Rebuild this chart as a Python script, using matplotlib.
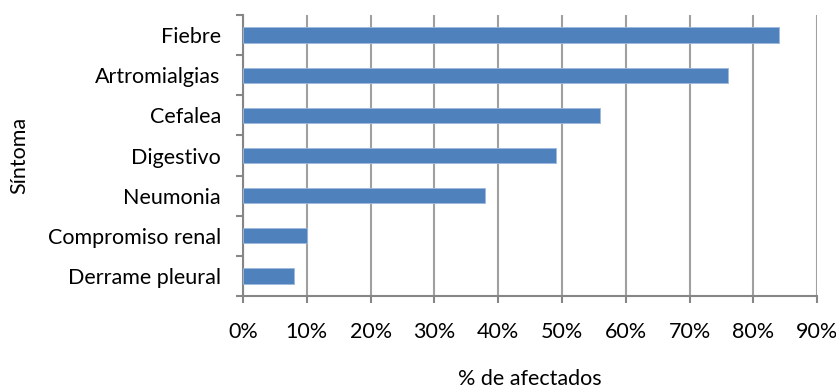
import matplotlib.pyplot as plt
from matplotlib.ticker import FixedLocator, PercentFormatter

plt.rcParams['font.family'] = ['Lato', 'DejaVu Sans']

sintomas = ['Fiebre', 'Artromialgias', 'Cefalea', 'Digestivo', 'Neumonia',
            'Compromiso renal', 'Derrame pleural']
porcentajes = [84, 76, 56, 49, 38, 10, 8]

fig = plt.figure(figsize=(8.37, 3.88), dpi=100)
ax = fig.add_axes([0.2903, 0.237, 0.686, 0.7243])

y = list(range(len(sintomas)))[::-1]
ax.barh(y, porcentajes, height=0.38, color='#4F81BD', edgecolor='#9DB9DD',
        linewidth=0.6, zorder=3)

ax.set_xlim(0, 90)
ax.set_ylim(-0.5, len(sintomas) - 0.5)
ax.set_xticks(range(0, 100, 10))
ax.xaxis.set_major_formatter(PercentFormatter(decimals=0))
ax.grid(axis='x', color='#A0A0A0', linewidth=1.5, zorder=0)

ax.set_yticks(y)
ax.set_yticklabels(sintomas)
ax.yaxis.set_minor_locator(FixedLocator([i - 0.5 for i in range(len(sintomas) + 1)]))
ax.tick_params(axis='y', which='major', length=0, pad=16, labelsize=15.5, colors='#000000')
ax.tick_params(axis='y', which='minor', length=5, width=1.5, color='#868686')
ax.tick_params(axis='x', which='major', length=5, width=1.5, color='#868686',
               pad=14, labelsize=15.5)

for side in ['top', 'right']:
    ax.spines[side].set_visible(False)
for side in ['left', 'bottom']:
    ax.spines[side].set_color('#868686')
    ax.spines[side].set_linewidth(1.5)

ax.set_xlabel('% de afectados', fontsize=15.5, labelpad=19)
ax.set_ylabel('Síntoma', fontsize=15.5, labelpad=13)

fig.savefig('out.png', dpi=100)
